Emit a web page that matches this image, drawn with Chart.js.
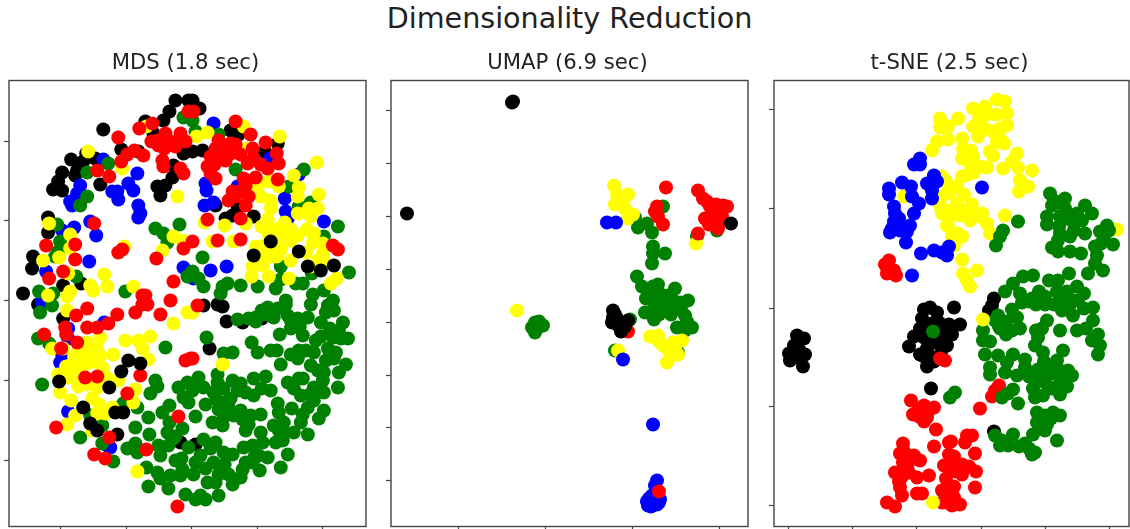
<!DOCTYPE html>
<html>
<head>
<meta charset="utf-8">
<title>Dimensionality Reduction</title>
<script src="https://cdn.jsdelivr.net/npm/chart.js@4"></script>
<style>
    html, body { margin: 0; padding: 0; background: #fff; overflow: hidden; }
    #page { position: relative; width: 1130px; height: 529px; overflow: hidden; }
    #suptitle { position: absolute; left: 0; width: 1139px; top: 1px; text-align: center; font: 28.6px "DejaVu Sans"; color: #222; }
    canvas { position: absolute; top: 45px; filter: blur(0.4px); }
</style>
</head>
<body>
<div id="page">
    <div id="suptitle">Dimensionality Reduction</div>
    <canvas id="mds" width="367" height="484" style="left:0px"></canvas>
    <canvas id="umap" width="367" height="484" style="left:382px"></canvas>
    <canvas id="tsne" width="365" height="484" style="left:765px"></canvas>
</div>
<script>
// --- MDS ---
const mdsXTicks = [51, 116.7, 182, 247.7, 313];
const mdsYTicks = [66.5, 146.5, 226.5, 306.2, 384.8];
const mdsBlack = [[166,426],[160,415],[154,406],[94,397],[112,377],[62,367],[77,373],[86,368],[74,365],[68,356],[53,354],[49,345],[44,337],[53,336],[66,351],[91,342],[39,309],[39,294],[24,270],[23,258],[14,233],[54,241],[72,243],[148,340],[156,341],[163,349],[151,331],[164,361],[174,373],[129,375],[179,426],[144,393],[136,405],[183,426],[190,418],[183,375],[193,376],[221,396],[229,392],[268,383],[255,375],[216,308],[223,311],[228,320],[244,310],[206,321],[29,222],[54,208],[108,92],[98,81],[171,84],[194,221],[208,222],[213,220],[217,205],[233,204],[252,208],[200,178],[186,82]];
const mdsBlue = [[94,367],[71,341],[68,333],[61,325],[63,321],[103,335],[108,335],[109,327],[119,343],[124,336],[128,353],[129,321],[131,313],[129,309],[65,299],[53,296],[81,305],[87,291],[80,265],[37,255],[174,259],[33,226],[204,403],[260,368],[289,352],[196,343],[197,336],[195,321],[204,324],[228,340],[275,328],[276,315],[278,308],[314,305],[201,256],[217,260],[184,248],[33,223],[59,198],[59,188],[51,164],[53,172],[95,204],[59,115],[101,79]];
const mdsGreen = [[174,409],[78,354],[99,363],[78,330],[71,321],[48,302],[51,285],[49,275],[46,270],[30,235],[44,233],[67,250],[146,298],[154,293],[158,284],[170,302],[116,235],[178,250],[186,395],[183,406],[209,392],[226,357],[294,357],[279,340],[301,324],[289,320],[328,300],[314,290],[193,269],[271,260],[339,254],[231,241],[248,240],[266,238],[271,247],[286,243],[293,243],[303,232],[314,236],[189,248],[194,240],[213,240],[218,243],[211,233],[276,226],[323,226],[302,253],[183,255],[29,188],[40,183],[31,214],[43,221],[33,142],[156,179],[146,146],[148,140],[141,133],[128,119],[114,123],[81,111],[139,109],[126,99],[140,92],[153,114],[160,121],[71,89],[93,101],[93,83],[118,78],[126,83],[128,74],[104,65],[149,81],[151,71],[158,94],[164,88],[173,98],[159,81],[166,66],[173,57],[137,59],[148,54],[139,40],[151,48],[159,38],[161,51],[171,51],[176,32],[179,79],[178,144],[169,139],[174,129],[179,124],[258,219],[276,222],[301,222],[318,221],[324,216],[316,214],[261,211],[253,212],[278,211],[228,207],[239,208],[246,209],[246,205],[264,209],[288,208],[298,209],[281,206],[311,204],[333,204],[329,196],[281,198],[270,192],[293,191],[311,190],[323,189],[338,188],[331,188],[197,189],[242,184],[248,174],[261,176],[267,176],[214,173],[223,174],[281,172],[289,176],[296,176],[304,174],[288,168],[318,178],[326,174],[316,166],[324,168],[271,162],[336,162],[329,154],[301,161],[308,156],[314,154],[313,146],[328,139],[304,139],[314,134],[289,148],[293,148],[278,144],[284,138],[291,131],[304,126],[298,119],[314,116],[309,108],[293,112],[291,104],[298,92],[189,149],[208,152],[208,144],[223,146],[231,143],[244,148],[256,150],[261,136],[184,143],[194,139],[183,136],[204,134],[214,138],[236,134],[244,131],[221,128],[214,124],[196,122],[219,119],[231,116],[268,123],[269,114],[251,112],[241,111],[233,107],[239,102],[214,109],[203,104],[213,101],[274,104],[269,96],[274,94],[284,94],[251,94],[273,86],[253,84],[243,81],[234,79],[223,72],[214,74],[194,87],[206,84],[201,78],[278,72],[249,71],[258,69],[204,64],[191,71],[186,64],[243,64],[271,59],[250,56],[231,49],[219,52],[209,52],[223,42],[198,44],[206,44],[184,52],[191,31],[196,27],[209,31],[186,27],[233,57],[252,138],[228,136],[207,127],[209,117],[224,111],[236,96],[264,101],[282,118],[300,132],[306,186],[290,200],[252,216],[268,218],[320,198],[266,84],[245,70],[236,64],[215,62],[196,58],[172,68],[166,90],[160,104],[186,110]];
const mdsYellow = [[79,375],[137,400],[113,358],[168,330],[40,303],[61,292],[61,278],[50,269],[34,266],[115,280],[95,252],[98,240],[59,253],[124,240],[164,290],[153,276],[173,286],[39,231],[61,235],[58,230],[81,241],[84,236],[234,400],[198,394],[187,390],[238,378],[270,390],[307,364],[284,351],[289,339],[288,330],[309,332],[248,340],[259,345],[269,340],[251,330],[261,326],[261,318],[258,307],[288,313],[299,318],[308,318],[301,310],[297,297],[304,293],[269,298],[281,297],[259,291],[281,286],[269,286],[261,280],[246,280],[271,277],[261,270],[253,261],[243,260],[242,250],[259,250],[281,266],[296,274],[313,283],[313,273],[308,266],[314,265],[195,304],[215,301],[203,285],[224,285],[236,303],[279,248],[321,243],[327,248],[301,260],[178,214],[164,203],[58,216],[43,178],[116,186],[129,186],[141,190],[133,178],[139,167],[91,189],[78,184],[104,172],[91,171],[81,173],[71,168],[63,161],[78,163],[69,158],[59,149],[49,152],[51,134],[62,126],[69,140],[79,142],[88,139],[83,128],[98,148],[109,146],[126,137],[124,124],[103,119],[88,113],[96,113],[58,102],[66,111],[128,55],[83,96],[54,178],[69,176],[213,162],[183,214],[275,292],[262,295],[288,291],[253,270],[267,270],[253,280],[303,284],[252,300],[245,268],[275,304],[85,165],[65,170],[73,181],[88,178],[57,160],[73,148],[94,158],[90,122]];
const mdsRed = [[109,389],[130,398],[143,403],[142,385],[149,381],[156,393],[161,385],[171,393],[176,385],[148,386],[153,366],[154,360],[171,358],[174,353],[134,371],[125,376],[118,372],[112,365],[88,356],[100,350],[179,415],[85,303],[37,281],[66,282],[66,267],[54,255],[40,248],[109,274],[113,277],[147,268],[174,278],[164,245],[133,231],[161,226],[136,231],[184,415],[226,405],[241,392],[209,386],[221,383],[226,382],[256,384],[201,370],[198,360],[206,348],[201,353],[213,376],[211,367],[221,373],[231,372],[243,378],[244,368],[251,362],[258,358],[267,373],[269,363],[234,348],[246,349],[268,347],[236,341],[223,335],[226,330],[219,326],[239,330],[236,321],[231,308],[198,307],[208,286],[231,287],[183,285],[323,281],[328,277],[78,218],[108,212],[99,203],[67,211],[56,199],[57,192],[78,199],[88,199],[68,184],[35,192],[52,178],[126,214],[133,222],[138,222],[151,212],[176,166],[181,168],[88,150],[76,149],[131,151],[118,133],[169,110],[47,99],[100,89],[85,72],[96,68],[137,77],[168,20],[188,221],[183,168],[166,380],[206,378],[216,366],[238,363],[205,362],[155,378],[232,336]];
const mdsBlackTop = [[261,285],[244,271],[298,260],[311,256],[324,261],[289,275],[74,119],[106,114],[114,114],[81,103],[88,96],[100,139],[112,155],[119,166],[131,163],[50,145]];

// --- UMAP ---
const umapXTicks = [67, 154.3, 241.7, 328.7];
const umapYTicks = [45.8, 98.8, 151.5, 204.2, 257.2, 309.8, 362.8, 415.8];
const umapGreen = [[244,309],[247,299],[256,303],[261,294],[272,320],[262,280],[274,273],[262,273],[261,263],[246,250],[251,240],[267,242],[257,235],[284,238],[297,226],[326,296],[306,290],[261,227],[276,224],[289,224],[254,214],[263,207],[272,217],[286,219],[294,211],[286,199],[301,199],[294,196],[144,204],[152,201],[144,194],[147,199],[239,207],[224,176],[287,174],[266,221],[279,217],[262,240],[270,232],[277,231],[255,228],[268,228],[282,226],[290,217],[296,205],[260,215],[268,212],[280,212],[148,205],[141,199]];
const umapYellow = [[223,341],[237,332],[229,328],[224,322],[234,318],[237,308],[242,312],[305,283],[126,216],[259,190],[267,191],[272,181],[282,184],[291,186],[281,176],[287,172],[276,164],[227,176],[226,332],[232,326],[268,185],[276,178],[284,178],[280,170]];
const umapBlue = [[216,304],[225,304],[232,167],[262,102],[266,46],[264,41],[256,25],[257,21],[264,27],[269,27],[261,31],[266,22],[262,24],[258,28],[268,24],[260,20]];
const umapRed = [[275,339],[266,320],[264,315],[267,310],[272,302],[307,336],[312,328],[332,321],[319,320],[326,316],[314,308],[322,306],[327,298],[307,293],[331,310],[336,320],[237,195],[268,35],[316,325],[322,315],[328,306],[318,302],[325,322]];
const umapBlack = [[122,425],[121,424],[16,313],[340,303],[222,216],[222,209],[221,204],[231,203],[237,206],[230,195],[224,212],[226,208],[234,200],[228,200]];

// --- t-SNE ---
const tsneXTicks = [14.3, 78.3, 142.3, 207, 271.3, 335.3];
const tsneYTicks = [20.8, 120.5, 218.5, 317.8, 416.8];
const tsneBlack = [[23,191],[30,188],[20,181],[15,173],[25,177],[31,172],[16,166],[23,169],[29,160],[150,217],[156,219],[163,214],[146,198],[158,203],[150,189],[163,191],[135,180],[146,172],[153,178],[153,160],[160,184],[157,138],[175,202],[186,202],[178,192],[173,181],[180,219],[218,221],[215,216],[220,95],[220,228],[168,177],[166,194],[157,197],[148,208],[165,204],[170,190],[140,190],[157,170],[150,170],[160,165]];
const tsneRed = [[115,266],[111,262],[113,253],[120,256],[122,251],[137,126],[139,112],[155,116],[150,121],[160,119],[153,109],[162,97],[160,80],[129,83],[126,73],[140,71],[146,66],[129,64],[121,54],[135,54],[143,49],[155,51],[126,39],[128,31],[143,33],[148,33],[113,24],[121,20],[166,168],[170,61],[168,36],[168,24],[171,166],[193,91],[198,91],[191,84],[177,85],[201,73],[175,72],[188,62],[176,61],[188,52],[202,55],[201,39],[173,34],[180,29],[186,22],[178,21],[173,24],[206,118],[218,130],[225,141],[221,136],[175,84],[145,110],[150,105],[145,118],[130,75],[133,60],[128,50],[125,45],[135,65],[180,70],[182,55],[195,60],[172,48],[180,40]];
const tsneYellow = [[166,399],[163,385],[158,376],[168,350],[166,320],[168,313],[130,330],[173,301],[173,333],[223,427],[231,425],[199,418],[211,420],[213,412],[233,413],[184,408],[174,400],[199,400],[233,401],[219,395],[226,398],[204,390],[188,388],[174,387],[223,385],[230,383],[197,376],[216,375],[188,368],[199,370],[194,365],[219,371],[243,373],[238,365],[213,359],[229,358],[244,359],[258,356],[194,352],[188,350],[246,346],[254,340],[245,335],[183,340],[176,335],[183,323],[193,316],[186,311],[196,306],[208,313],[213,303],[216,293],[231,311],[173,316],[174,301],[184,293],[188,290],[180,281],[188,267],[189,253],[203,256],[196,240],[193,246],[343,297],[159,24],[205,408],[222,412],[226,388],[211,398],[189,378],[206,360],[200,354],[190,332],[198,322],[204,310],[179,312],[178,290],[172,345],[168,330],[166,408]];
const tsneBlue = [[146,368],[140,362],[146,362],[115,338],[115,332],[128,344],[137,340],[138,330],[145,323],[140,313],[136,301],[121,313],[120,305],[126,301],[116,294],[126,296],[132,284],[147,273],[160,276],[168,274],[138,251],[160,351],[153,343],[163,345],[158,328],[158,336],[208,339],[173,271],[175,280],[120,320],[118,298],[125,308],[133,295]];
const tsneGreen = [[159,195],[276,333],[291,328],[278,321],[291,318],[311,321],[273,310],[273,302],[286,310],[303,313],[318,313],[308,306],[293,308],[311,293],[286,293],[296,290],[284,286],[278,279],[284,275],[296,275],[307,273],[321,280],[339,282],[326,295],[333,301],[335,296],[323,271],[321,263],[329,256],[314,253],[244,305],[229,296],[226,290],[222,281],[259,251],[249,250],[239,243],[231,235],[275,246],[284,246],[295,253],[303,240],[310,233],[246,233],[258,228],[271,230],[286,230],[300,226],[248,224],[271,222],[288,226],[304,226],[319,219],[224,211],[238,217],[221,206],[243,209],[226,198],[238,196],[246,198],[273,206],[288,216],[299,211],[319,206],[303,196],[286,196],[324,192],[318,186],[326,181],[324,172],[264,189],[261,181],[269,174],[289,176],[209,196],[209,186],[216,185],[211,172],[224,171],[239,172],[251,167],[216,159],[216,152],[233,164],[231,154],[243,151],[251,159],[264,157],[283,166],[274,159],[294,156],[298,151],[286,156],[263,149],[278,153],[288,146],[271,144],[259,138],[239,137],[228,129],[234,133],[244,123],[261,129],[269,131],[286,132],[278,138],[263,114],[286,111],[279,114],[271,111],[263,104],[273,102],[259,92],[271,96],[283,86],[221,91],[239,92],[226,81],[234,81],[251,83],[258,72],[261,74],[176,129],[181,134],[280,326],[285,300],[300,296],[300,303],[330,290],[327,283],[255,225],[265,235],[283,235],[293,235],[262,222],[280,222],[296,222],[310,218],[225,200],[232,205],[232,192],[262,196],[268,198],[312,198],[270,165],[255,150],[270,150],[280,160],[293,140],[283,140],[262,130],[268,108],[277,108],[265,98],[228,86],[245,80],[255,78]];
const tsneYellowTop = [[209,207]];

const frameColor = '#444';

// recuadro completo, como los spines de matplotlib
const framePlugin = {
    id: 'frame',
    afterDraw(chart) {
        const { ctx, chartArea: a } = chart;
        ctx.save();
        ctx.strokeStyle = frameColor;
        ctx.lineWidth = 1.4;
        ctx.strokeRect(a.left, a.top, a.right - a.left, a.bottom - a.top);
        ctx.restore();
    }
};

function axisOptions(max, tickValues, fit) {
    return {
        type: 'linear',
        min: 0,
        max: max,
        afterBuildTicks: axis => { axis.ticks = tickValues.map(v => ({ value: v })); },
        afterFit: fit,
        ticks: { display: false },
        border: { display: false },
        grid: { drawOnChartArea: false, tickLength: 5, tickColor: frameColor, tickWidth: 1.2 }
    };
}

// layers va de abajo hacia arriba; Chart.js pinta primero el último dataset
function drawPanel(id, title, xMax, xTicks, yTicks, layers) {
    new Chart(document.getElementById(id), {
        type: 'scatter',
        data: {
            datasets: layers.slice().reverse().map(([points, color]) => ({
                data: points,
                backgroundColor: color,
                pointRadius: 7,
                pointBorderWidth: 0
            }))
        },
        options: {
            responsive: false,
            animation: false,
            layout: { autoPadding: false, padding: { left: 5, right: 1 } },
            plugins: {
                legend: { display: false },
                tooltip: { enabled: false },
                title: {
                    display: true,
                    text: title,
                    color: '#222',
                    font: { family: 'DejaVu Sans', size: 21.2, weight: 'normal' },
                    padding: { top: 5.3, bottom: 4.76 }
                }
            },
            scales: {
                x: axisOptions(xMax, xTicks, s => { s.height = 2.5; }),
                y: axisOptions(446, yTicks, s => { s.width = 4; })
            }
        },
        plugins: [framePlugin]
    });
}

drawPanel('mds', 'MDS (1.8 sec)', 356, mdsXTicks, mdsYTicks, [
    [mdsBlack, 'black'], [mdsBlue, 'blue'], [mdsGreen, 'green'],
    [mdsYellow, 'yellow'], [mdsRed, 'red'], [mdsBlackTop, 'black']
]);
drawPanel('umap', 'UMAP (6.9 sec)', 357, umapXTicks, umapYTicks, [
    [umapGreen, 'green'], [umapYellow, 'yellow'], [umapBlue, 'blue'],
    [umapRed, 'red'], [umapBlack, 'black']
]);
drawPanel('tsne', 't-SNE (2.5 sec)', 355, tsneXTicks, tsneYTicks, [
    [tsneBlack, 'black'], [tsneRed, 'red'], [tsneYellow, 'yellow'],
    [tsneBlue, 'blue'], [tsneGreen, 'green'], [tsneYellowTop, 'yellow']
]);
</script>
</body>
</html>
